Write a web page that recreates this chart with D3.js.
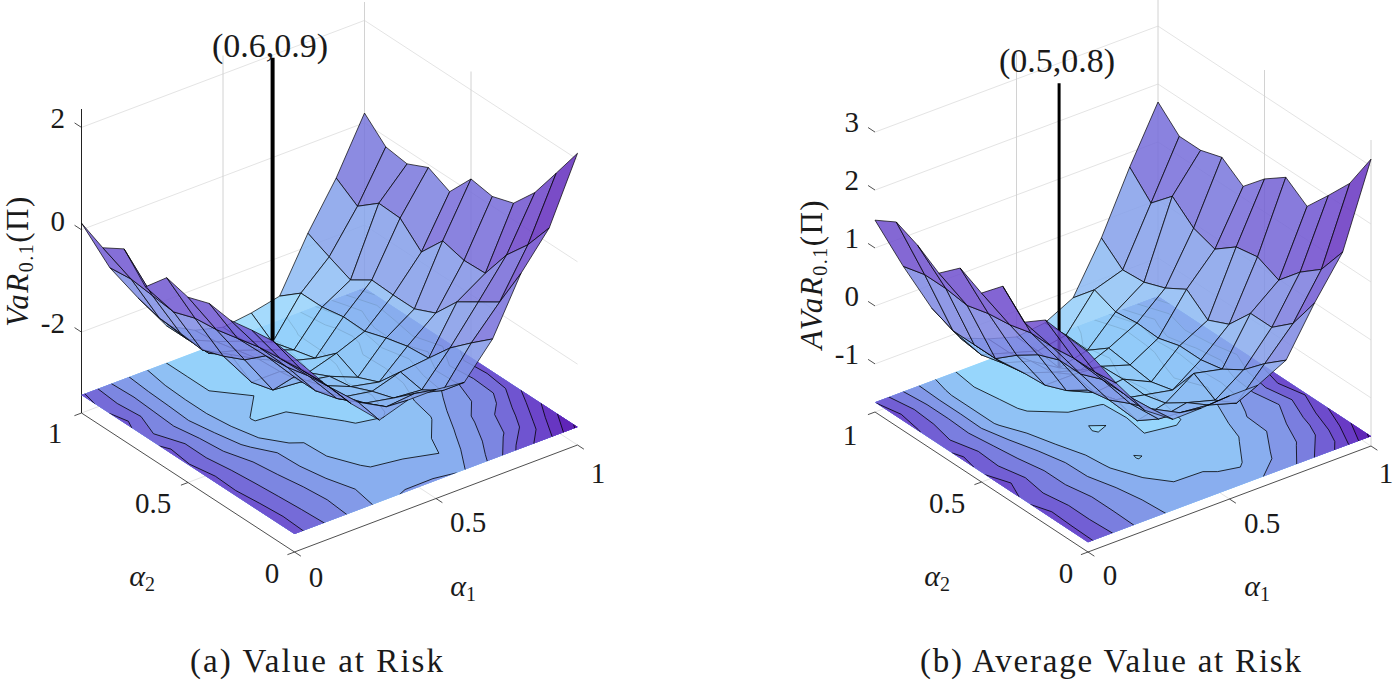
<!DOCTYPE html>
<html><head><meta charset="utf-8">
<script src="https://cdn.jsdelivr.net/npm/d3@7"></script>
<style>html,body{margin:0;background:#fff}svg{display:block}text{font-family:"Liberation Serif",serif;fill:#1a1a1a}</style>
</head><body><svg id="c" width="1397" height="681"></svg>
<script>
const alphaGrid=[0,.1,.2,.3,.4,.5,.6,.7,.8,.9,1];
const floorTicks=[0,.5,1];
const floorTickLabels=["0","0.5","1"];
const varTicks=[-2,0,2];
const avarTicks=[-1,0,1,2,3];
const varLevels=[-3,-2.5,-2,-1.5,-1,-.5,0,.5,1,1.5,2];
const avarLevels=[-1.5,-1,-.5,0,.5,1,1.5,2,2.5,3];
// rows: alpha1 = 0..1, columns: alpha2 = 0..1
const varZ=[
[.21,.27,.21,.13,.19,.04,.15,-.30,.17,-.08,.13],
[-.47,-.5,-.55,-.6,-.7,-.8,-.85,-1.0,-.95,-.9,-.95],
[-1.1,-1.05,-1.1,-1.2,-1.25,-1.6,-1.8,-1.95,-1.9,-1.87,-1.75],
[-1.63,-1.55,-1.75,-1.87,-1.87,-2.4,-2.52,-2.25,-2.5,-2.5,-2.5],
[-1.45,-1.85,-2.05,-2.2,-2.25,-2.45,-2.52,-2.55,-2.65,-2.75,-2.8],
[-1.45,-1.8,-2.16,-2.3,-2.48,-2.55,-2.75,-2.8,-2.85,-2.95,-2.95],
[-1.52,-1.95,-2.21,-2.13,-2.6,-2.78,-2.58,-2.95,-3.06,-3.18,-2.88],
[-.88,-1.23,-1.60,-2.07,-2.11,-2.22,-2.36,-2.35,-2.43,-2.43,-2.76],
[.19,-.64,-.91,-1.18,-1.67,-1.86,-1.86,-1.84,-2.11,-1.93,-1.74],
[.87,.27,-.20,-.83,-.85,-.74,-1.23,-.84,-.82,-1.15,-.87],
[2.12,1.46,.81,.33,.19,.26,-.26,-.06,-.26,-.20,.19]];
const avarZ=[
[1.62,1.65,1.69,1.41,1.79,1.43,1.62,1.29,1.53,1.69,1.48],
[.9,.85,.85,.8,.8,.7,.65,.55,.6,.6,.5],
[.25,.3,.3,.15,.15,.0,-.25,-.55,-.55,-.55,-.4],
[-.09,-.15,-.3,-.48,-.55,-.8,-.95,-.98,-1.05,-1.15,-1.1],
[-.08,-.4,-.75,-1.02,-.9,-1.02,-.95,-1.15,-1.2,-1.3,-1.3],
[-.05,-.45,-.65,-.9,-1.0,-.97,-.99,-1.3,-1.5,-1.45,-1.45],
[-.05,-.60,-.79,-.57,-1.1,-1.2,-1.15,-1.10,-1.38,-1.36,-1.39],
[.2,-.1,-.45,-.68,-.76,-.76,-.87,-.85,-.90,-.76,-1.14],
[1.0,.41,.10,.10,-.33,-.50,-.21,-.43,-.57,-.60,-.29],
[1.70,1.16,.87,.49,.65,.58,.30,.42,.73,.37,.75],
[3.12,2.46,2.01,1.58,1.84,1.57,1.20,1.46,1.34,1.34,1.69]];
const varPeak=[.6,.9], avarPeak=[.5,.8];

const svg=d3.select("#c");
const colorStops=d3.scaleLinear().domain([0,.25,.45,.62,.8,1]).range(["#9ae0ff","#8ab2f0","#7d88e2","#7058d2","#6a3cc6","#5a18b0"]).interpolate(d3.interpolateRgb).clamp(true);

function drawPlot(L,Z,levels,zTicks,peak,peakLabel,yLab,cap){
  const g=svg.append("g");
  const sx1=d3.scaleLinear().domain([0,1]).range([0,L.a1[0]]), sy1=d3.scaleLinear().domain([0,1]).range([0,L.a1[1]]);
  const sx2=d3.scaleLinear().domain([0,1]).range([0,L.a2[0]]), sy2=d3.scaleLinear().domain([0,1]).range([0,L.a2[1]]);
  const sz=d3.scaleLinear().domain(L.zDomain).range([0,-L.zPx]);
  const P=(a,b,z)=>[L.o[0]+sx1(a)+sx2(b), L.o[1]+sy1(a)+sy2(b)+sz(z)];
  const zLo=L.zDomain[0], zHi=L.zDomain[1], zF=L.zFloor;
  const all=Z.flat(), dmin=d3.min(all), dmax=d3.max(all);
  const col=z=>colorStops((z-dmin)/(dmax-dmin));
  const poly=pts=>"M"+pts.map(p=>p.map(v=>v.toFixed(2)).join(",")).join("L")+"Z";
  const line=(p,q,st,w)=>g.append("line").attr("x1",p[0]).attr("y1",p[1]).attr("x2",q[0]).attr("y2",q[1]).attr("stroke",st).attr("stroke-width",w);

  // grid
  zTicks.forEach(t=>{line(P(0,1,t),P(1,1,t),"#e4e4e4",1);line(P(1,1,t),P(1,0,t),"#e4e4e4",1);});
  floorTicks.slice(1).forEach(t=>{
    line(P(t,1,zLo),P(t,1,zHi),"#d2d2d2",1);
    if(t<1) line(P(1,t,zLo),P(1,t,zHi),"#d2d2d2",1);
    if(t<1){line(P(t,0,zLo),P(t,1,zLo),"#e4e4e4",1);line(P(0,t,zLo),P(1,t,zLo),"#e4e4e4",1);}
  });
  if(L.rightGrid) line(P(1,0,zLo),P(1,0,zHi),"#d2d2d2",1);
  line(P(0,1,zLo),P(1,1,zLo),"#e4e4e4",1);line(P(1,1,zLo),P(1,0,zLo),"#e4e4e4",1);

  // axes
  const ax="#222";
  line(P(0,0,zLo),P(1,0,zLo),ax,.8);line(P(0,0,zLo),P(0,1,zLo),ax,.8);
  if(L.zLine) line(P(0,1,zLo),P(0,1,zHi),ax,1);
  const tl=.025;
  floorTicks.forEach(t=>{line(P(t,0,zLo),P(t,-tl*1.2,zLo),ax,.8);line(P(0,t,zLo),P(-tl,t,zLo),ax,.8);});
  zTicks.forEach(t=>line(P(0,1,t),P(0,1+tl*1.3,t),ax,.8));

  // floor contours
  const clipId="clip"+L.id;
  const corners=[P(0,0,zF),P(1,0,zF),P(1,1,zF),P(0,1,zF)];
  g.append("clipPath").attr("id",clipId).append("path").attr("d",poly(corners));
  const n=alphaGrid.length, N=n+2, vals=new Array(N*N);
  for(let j=0;j<N;j++)for(let i=0;i<N;i++){
    const a=Math.min(n-1,Math.max(0,i-1)),b=Math.min(n-1,Math.max(0,j-1));
    vals[j*N+i]=Z[a][b];
  }
  const cg=g.append("g").attr("clip-path",`url(#${clipId})`);
  cg.append("path").attr("d",poly(corners)).attr("fill",col(levels[0]-.1));
  const conts=d3.contours().size([N,N]).thresholds(levels)(vals);
  const cpath=c=>c.coordinates.map(pg=>pg.map(r=>poly(r.map(q=>P((q[0]-1.5)/10,(q[1]-1.5)/10,zF)))).join("")).join("");
  conts.forEach((c,k)=>{
    if(!c.coordinates.length)return;
    cg.append("path").attr("d",cpath(c)).attr("fill",col(levels[k]+L.bandShift)).attr("fill-rule","evenodd");
  });
  conts.forEach(c=>{
    if(!c.coordinates.length)return;
    cg.append("path").attr("d",cpath(c)).attr("fill","none").attr("stroke","#000").attr("stroke-width",.8);
  });

  // surface, painted back to front; the stem sits at its own depth
  const depth=(a,b)=>213*a+283*b;
  const items=[];
  for(let i=0;i<n-1;i++)for(let j=0;j<n-1;j++){
    const a=alphaGrid[i],a2=alphaGrid[i+1],b=alphaGrid[j],b2=alphaGrid[j+1];
    items.push({d:depth((a+a2)/2,(b+b2)/2),draw(){
      const zs=[Z[i][j],Z[i+1][j],Z[i+1][j+1],Z[i][j+1]];
      g.append("path").attr("d",poly([P(a,b,zs[0]),P(a2,b,zs[1]),P(a2,b2,zs[2]),P(a,b2,zs[3])]))
       .attr("fill",col((zs[0]+d3.max(zs))/2)).attr("fill-opacity",L.alpha).attr("stroke","#000").attr("stroke-width",.7).attr("stroke-linejoin","round");
    }});
  }
  items.push({d:depth(peak[0],peak[1]),draw(){line(P(peak[0],peak[1],zF),P(peak[0],peak[1],L.stemTop),"#000",L.stemW);}});
  items.sort((p,q)=>q.d-p.d).forEach(it=>it.draw());

  // texts
  const T=(x,y,s,anchor,size)=>g.append("text").attr("x",x).attr("y",y).attr("text-anchor",anchor||"middle").attr("font-size",size||29).text(s);
  T(L.peakPos[0],L.peakPos[1],peakLabel,"middle",34);
  zTicks.forEach((t,k)=>{const p=P(0,1,t);T(L.zLabX,p[1]-L.zLabUp+10,String(t),"end");});
  floorTickLabels.forEach((s,k)=>{
    T(L.a1Lab[k][0],L.a1Lab[k][1],s);
    T(L.a2Lab[k][0],L.a2Lab[k][1],s);
  });
  const sub=(x,y,base,idx)=>{const t=g.append("text").attr("x",x).attr("y",y).attr("text-anchor","middle").attr("font-size",30);
    t.append("tspan").attr("font-style","italic").text(base);
    t.append("tspan").attr("font-size",20).attr("dy",5).text(idx);};
  sub(L.a1Name[0],L.a1Name[1],"α","1");
  sub(L.a2Name[0],L.a2Name[1],"α","2");
  const yl=g.append("text").attr("transform",`translate(${L.yLab[0]},${L.yLab[1]}) rotate(-90)`).attr("text-anchor","middle").attr("font-size",31).attr("letter-spacing",1.5);
  yl.append("tspan").attr("font-style","italic").text(yLab);
  yl.append("tspan").attr("font-size",20).attr("dy",5).text("0.1");
  yl.append("tspan").attr("dy",-5).text("(Π)");
  g.append("text").attr("x",L.cap[0]).attr("y",L.cap[1]).attr("font-size",33).attr("textLength",L.cap[2]).attr("lengthAdjust","spacing").text(cap);
}

drawPlot({id:"a",o:[294.5,552],a1:[283,-107],a2:[-213,-139],zDomain:[-3.58,2.36],zPx:304,zFloor:-3.23,alpha:.85,bandShift:.25,
  zLine:true,rightGrid:false,stemTop:2.38,stemW:4,peakPos:[270,57],zLabX:65,zLabUp:9,
  a1Lab:[[316,587],[468,532],[598,483]],a2Lab:[[272,583],[153,513],[55,443]],a1Name:[463,596],a2Name:[142,586],yLab:[28,261],cap:[190,672,253]},
  varZ,varLevels,varTicks,varPeak,"(0.6,0.9)","VaR","(a) Value at Risk");
drawPlot({id:"b",o:[1088,552],a1:[283,-106],a2:[-213,-140],zDomain:[-1.83,3.45],zPx:306,zFloor:-1.66,alpha:.85,bandShift:.25,
  zLine:false,rightGrid:true,stemTop:3.41,stemW:3,peakPos:[1057,72],zLabX:859,zLabUp:10,
  a1Lab:[[1110,585],[1262,533],[1386,483]],a2Lab:[[1066,583],[947,513],[850,445]],a1Name:[1257,596],a2Name:[937,586],yLab:[822,274],cap:[920,672,381]},
  avarZ,avarLevels,avarTicks,avarPeak,"(0.5,0.8)","AVaR","(b) Average Value at Risk");
</script></body></html>
